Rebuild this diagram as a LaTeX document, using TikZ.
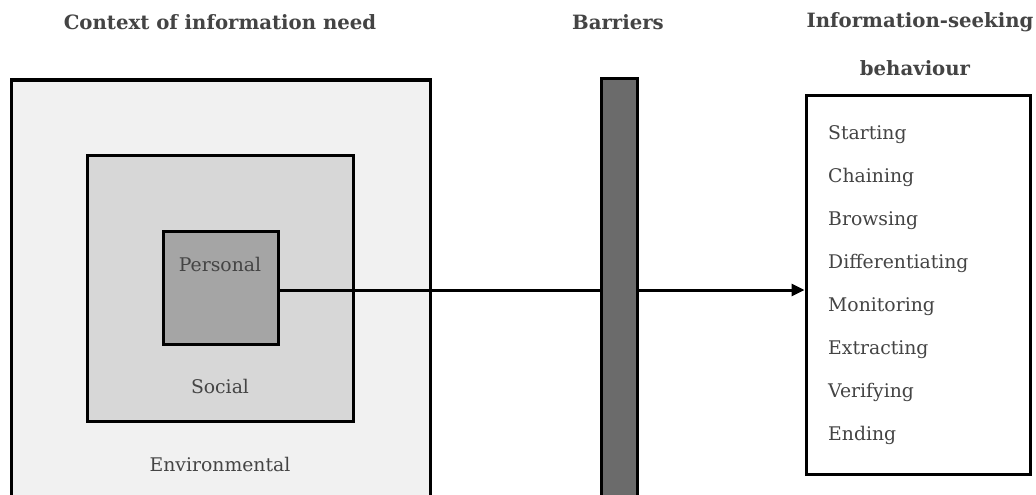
\documentclass[tikz,border=0pt]{standalone}
\usepackage{fontspec}
\setmainfont{DejaVu Serif}
\usetikzlibrary{arrows.meta}
\definecolor{txt}{HTML}{444444}
\definecolor{envfill}{HTML}{F1F1F1}
\definecolor{socfill}{HTML}{D7D7D7}
\definecolor{perfill}{HTML}{A5A5A5}
\definecolor{barfill}{HTML}{6B6B6B}
\begin{document}
\begin{tikzpicture}[x=1pt,y=-1pt,
  box/.style={draw=black,line width=3pt},
  head/.style={text=txt,font=\fontsize{19.7}{22}\selectfont\bfseries,inner sep=0pt},
  lbl/.style={text=txt,font=\fontsize{18.8}{22}\selectfont,inner sep=0pt},
  item/.style={text=txt,font=\fontsize{18.8}{22}\selectfont,inner sep=0pt,anchor=west}]
\useasboundingbox (0,0) rectangle (1036,495);
\clip (0,0) rectangle (1036,495);
\fill[white] (0,0) rectangle (1036,495);
% headers
\node[head] (h1) at (220,22) {Context of information need};
\node[head] (h2) at (618,22) {Barriers};
\node[head] (h3) at (920,22) {Information-seeking};
\node[head] (h4) at (915,68) {behaviour};
% boxes
\draw[box,fill=envfill] (11,80) rectangle (430,510);
\node[box,fill=socfill,minimum width=266pt,minimum height=266pt] (soc) at (220,288) {};
\node[box,fill=perfill,minimum width=115pt,minimum height=113pt] (per) at (220.5,287.5) {};
\node[lbl] (pl) at (220,264) {Personal};
\node[lbl] (sl) at (220,386) {Social};
\node[lbl] (el) at (220,464) {Environmental};
\node[box,fill=white,minimum width=224pt,minimum height=379pt] (beh) at (918,284.5) {};
% arrow
\draw[line width=3pt,-{Triangle[length=13pt,width=12pt]}] (per.east |- 0,290) -- (beh.west |- 0,290);
% barrier
\draw[box,fill=barfill] (601,79) rectangle (637,510);
% list
\foreach \t [count=\i] in {Starting,Chaining,Browsing,Differentiating,Monitoring,Extracting,Verifying,Ending}
  \node[item] (it\i) at (828,{135+42.85*(\i-1)}) {\t};
\end{tikzpicture}
\end{document}
